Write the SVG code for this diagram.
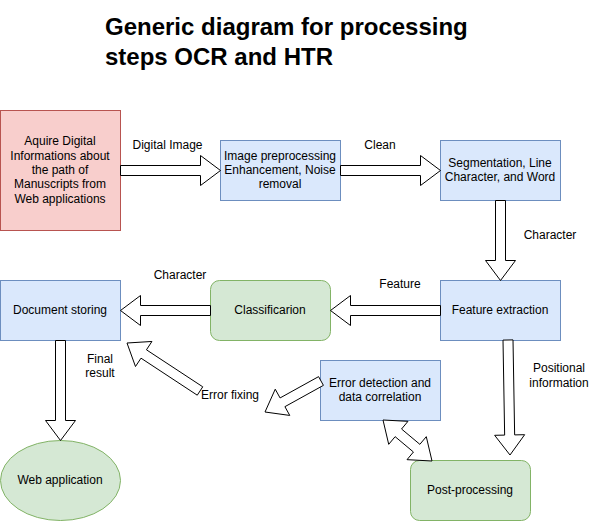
<svg xmlns="http://www.w3.org/2000/svg" width="591" height="521" viewBox="0 0 591 521">
<style>
text{font-family:"Liberation Sans",Arial,sans-serif;font-size:12px;fill:#000;text-anchor:middle}
.title{font-size:24px;font-weight:bold;text-anchor:start}
.blue{fill:#dae8fc;stroke:#6c8ebf;stroke-width:1}
.green{fill:#d5e8d4;stroke:#82b366;stroke-width:1}
.red{fill:#f8cecc;stroke:#b85450;stroke-width:1}
.arr{fill:#fff;stroke:#000;stroke-width:1;stroke-linejoin:miter}
</style>
<rect width="591" height="521" fill="#fff"/>
<g id="title">
<text class="title" x="105" y="35">Generic diagram for processing</text>
<text class="title" x="105" y="65">steps OCR and HTR</text>
</g>
<g id="acquire">
<rect class="red" x="0.5" y="110.5" width="120" height="120"/>
<text x="60" y="145.2">Aquire Digital</text>
<text x="60" y="159.6">Informations about</text>
<text x="60" y="174">the path of</text>
<text x="60" y="188.4">Manuscripts from</text>
<text x="60" y="202.8">Web applications</text>
</g>
<g id="preprocessing">
<rect class="blue" x="220.5" y="140.5" width="120" height="60"/>
<text x="280" y="159.6">Image preprocessing</text>
<text x="280" y="174">Enhancement, Noise</text>
<text x="280" y="188.4">removal</text>
</g>
<g id="segmentation">
<rect class="blue" x="440.5" y="140.5" width="120" height="60"/>
<text x="500" y="166.8">Segmentation, Line</text>
<text x="500" y="181.2">Character, and Word</text>
</g>
<g id="feature">
<rect class="blue" x="440.5" y="280.5" width="120" height="60"/>
<text x="500" y="314">Feature extraction</text>
</g>
<g id="classification">
<rect class="green" x="210.5" y="280.5" width="120" height="60" rx="9" ry="9"/>
<text x="270" y="314">Classificarion</text>
</g>
<g id="storing">
<rect class="blue" x="0.5" y="280.5" width="120" height="60"/>
<text x="60" y="314">Document storing</text>
</g>
<g id="errordetection">
<rect class="blue" x="320.5" y="360.5" width="120" height="60"/>
<text x="380" y="386.8">Error detection and</text>
<text x="380" y="401.2">data correlation</text>
</g>
<g id="postprocessing">
<rect class="green" x="410.5" y="460.5" width="120" height="60" rx="9" ry="9"/>
<text x="470" y="494">Post-processing</text>
</g>
<g id="webapp">
<ellipse class="green" cx="60.5" cy="480.5" rx="60" ry="40"/>
<text x="60" y="484">Web application</text>
</g>
<g id="connectors">
<polygon class="arr" points="120.5,165.5 200.5,165.5 200.5,155.5 220.5,170.5 200.5,185.5 200.5,175.5 120.5,175.5"/>
<polygon class="arr" points="340.5,165.5 420.5,165.5 420.5,155.5 440.5,170.5 420.5,185.5 420.5,175.5 340.5,175.5"/>
<polygon class="arr" points="495.5,200.5 495.5,260.5 485.5,260.5 500.5,280.5 515.5,260.5 505.5,260.5 505.5,200.5"/>
<polygon class="arr" points="440.5,305.5 350.5,305.5 350.5,295.5 330.5,310.5 350.5,325.5 350.5,315.5 440.5,315.5"/>
<polygon class="arr" points="210.5,305.5 140.5,305.5 140.5,295.5 120.5,310.5 140.5,325.5 140.5,315.5 210.5,315.5"/>
<polygon class="arr" points="55.5,340.5 55.5,420.5 45.5,420.5 60.5,440.5 75.5,420.5 65.5,420.5 65.5,340.5"/>
<polygon class="arr" points="513,339.9 514.65,434.9 524.65,434.7 510,455 494.65,435.3 504.65,435.1 503,340.1"/>
<polygon class="arr" points="197.25,395.18 141,358.17 135.47,366.52 127,343 151.95,341.46 146.46,349.81 202.75,386.82"/>
<polygon class="arr" points="323.42,385.37 284.92,406.68 289.76,415.43 265,412 275.24,389.19 280.08,397.94 318.58,376.63"/>
<polygon class="arr" points="383,420 407.97,421.33 401.55,429 419.87,444.34 426.29,436.67 432,461 407.03,459.67 413.45,452 395.13,436.66 388.71,444.33"/>
<text x="167.5" y="149">Digital Image</text>
<text x="380" y="149">Clean</text>
<text x="550" y="239">Character</text>
<text x="400" y="288">Feature</text>
<text x="180" y="279">Character</text>
<text x="100" y="362.5">Final</text>
<text x="100" y="377">result</text>
<text x="230" y="399">Error fixing</text>
<text x="559" y="372">Positional</text>
<text x="559" y="387">information</text>
</g>
</svg>
